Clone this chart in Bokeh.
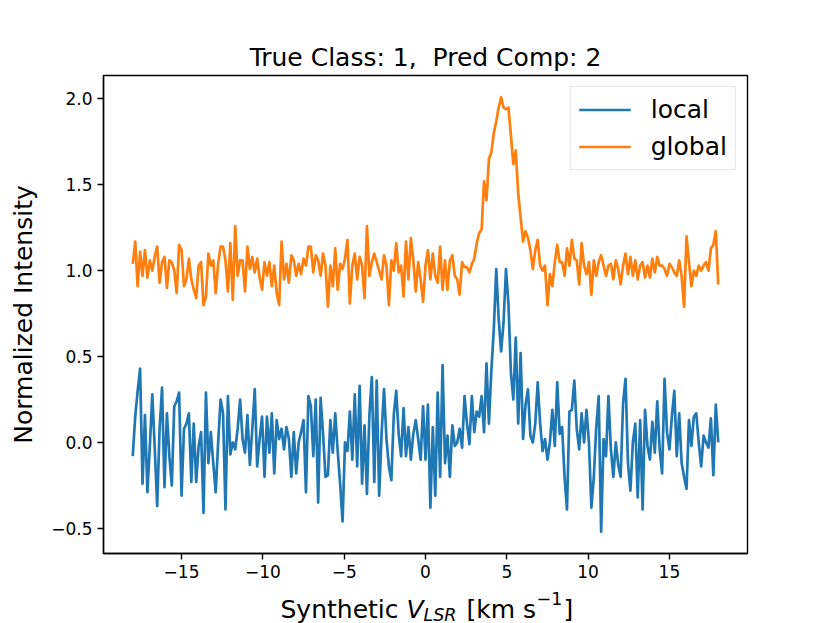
import numpy as np
from bokeh.plotting import figure
from bokeh.layouts import column
from bokeh.models import Range1d, FixedTicker, Label
from bokeh.embed import file_html
from bokeh.resources import INLINE

# ---------------- data ----------------
V_MIN, V_MAX, N_CHAN = -18.0, 18.0, 241
velocity = np.linspace(V_MIN, V_MAX, N_CHAN)   # channel grid [km/s]

local_intensity = [
    -0.08, 0.15, 0.30, 0.43, -0.24, 0.16, -0.29, -0.02, 0.28, -0.03,
    -0.37, 0.08, 0.32, -0.26, 0.17, -0.08, -0.25, 0.21, 0.24, 0.29,
    -0.31, 0.08, 0.11, 0.17, -0.23, 0.11, -0.23, -0.02, 0.06, -0.41,
    0.29, -0.12, 0.06, -0.12, -0.29, 0.00, 0.25, 0.17, -0.39, 0.27,
    -0.07, 0.00, -0.04, 0.08, 0.25, 0.02, -0.06, 0.16, -0.13, 0.08,
    0.31, -0.14, 0.02, 0.15, -0.20, 0.15, -0.06, 0.17, -0.18, 0.13,
    0.02, 0.08, -0.04, 0.09, 0.02, -0.20, 0.06, -0.18, 0.00, 0.06,
    0.13, -0.29, 0.27, 0.21, -0.08, 0.25,
    -0.35, 0.26, 0.05, -0.20, -0.19, 0.13, -0.06, 0.17, -0.05, -0.24,
    -0.46, 0.00, -0.05, 0.18, -0.10, 0.28, -0.14, 0.33, -0.24, 0.10,
    -0.30, 0.16, 0.38, -0.23, 0.36, -0.31, 0.05, 0.31, 0.02, -0.14,
    -0.22, 0.16, 0.30, 0.05, -0.08, 0.20, -0.08, 0.09, -0.10, 0.05,
    0.13, 0.02, -0.10, 0.21, -0.10, 0.22, -0.38, 0.09, -0.31, 0.29,
    -0.20, 0.45, -0.12, 0.04, -0.20,
    0.10, -0.02, 0.00, 0.08, -0.03, 0.27, 0.11, -0.01, 0.27, 0.06,
    0.18, 0.15, 0.27, 0.06, 0.46, 0.11, 0.42, 0.66, 1.01, 0.72,
    0.53, 0.70, 1.01, 0.81, 0.41, 0.25, 0.61, 0.11, 0.52, 0.02,
    0.22, 0.31, 0.04, 0.00, 0.11, 0.35, 0.11, -0.05, 0.02, -0.10,
    0.00, 0.19, -0.02, 0.35, 0.05,
    0.09, -0.20, -0.39, 0.18, 0.19, 0.36, 0.08, -0.04, 0.17, 0.00,
    0.19, 0.00, -0.38, -0.20, 0.09, 0.27, -0.52, 0.02, -0.08, 0.27,
    -0.04, -0.20, 0.00, -0.13, -0.20, 0.23, 0.37, -0.12, -0.28, 0.00,
    0.11, -0.32, 0.13, -0.39, 0.19, -0.02, -0.10, 0.12, -0.06, 0.24,
    -0.04, -0.18, 0.37, 0.06, -0.04, 0.15, 0.30, -0.08, 0.17, -0.12,
    -0.20, -0.27, 0.13, -0.02, 0.15, 0.17, 0.00, -0.14, 0.04, 0.00,
    -0.03, 0.14, -0.19, 0.22, 0.00,
]

global_intensity = [
    1.04, 1.17, 0.91, 1.11, 0.97, 1.12, 0.96, 1.06, 1.00, 1.08,
    1.14, 0.93, 1.05, 1.08, 0.90, 1.06, 1.05, 1.00, 0.87, 1.15,
    1.12, 0.91, 0.95, 1.07, 0.95, 0.89, 0.84, 1.03, 1.05, 0.80,
    0.85, 1.10, 1.03, 1.06, 0.87, 1.04, 1.14, 1.14, 1.06, 0.88,
    1.16, 0.83, 1.26, 0.97, 1.06, 1.06, 0.88, 1.14, 1.01, 1.08,
    0.99, 1.07, 0.96, 0.89, 1.05, 0.97, 1.05, 0.91, 1.03, 0.87,
    0.80, 1.17, 0.95, 1.04, 0.93, 1.09, 1.06, 0.97, 1.04, 0.98,
    1.07, 1.03, 1.14, 1.14, 0.99, 1.09, 1.06, 0.97, 1.10, 1.03,
    0.79, 1.03, 0.91, 1.13, 0.89, 1.04, 1.01, 1.07, 1.18, 0.81,
    1.03, 1.10, 0.95, 1.08, 1.03, 0.84, 1.26, 0.97, 1.05, 1.10,
    1.05, 1.00, 0.95, 1.09, 1.03, 0.80, 1.06, 1.00, 1.16, 0.99,
    1.03, 0.85, 1.17, 0.95, 1.19, 1.06, 0.88, 1.05,
    0.95, 0.82, 1.03, 1.12, 0.95, 1.10, 0.97, 0.93, 1.14, 0.89,
    1.06, 0.89, 1.06,
    1.09, 0.97, 0.95, 0.86, 1.05, 1.02, 1.02, 0.99, 1.04, 1.07,
    1.16, 1.22, 1.24, 1.52, 1.41, 1.65, 1.69, 1.80, 1.87, 1.95,
    2.01, 1.95, 1.94, 1.95, 1.79, 1.62, 1.70, 1.45, 1.31, 1.17,
    1.23, 1.19, 1.12, 1.01, 1.12, 1.18, 1.03, 1.00, 1.03, 0.80,
    0.98, 0.91, 1.05, 1.15, 1.05,
    1.05, 0.97, 1.13, 1.03, 1.18, 1.07, 1.06, 0.92, 1.16, 1.03,
    0.98, 1.05, 0.86, 1.06, 0.97, 1.05, 1.09, 1.03, 0.97, 1.03,
    1.04, 0.95, 1.06, 1.01, 0.92, 1.03, 1.10, 0.98, 1.08, 0.97,
    1.06, 0.95, 1.03, 1.05, 0.96, 1.03, 0.96, 1.07, 0.99, 1.08,
    1.03, 1.03, 1.01, 0.97, 1.04, 1.02, 0.99, 0.97, 1.06, 0.97,
    0.79, 1.20, 1.05, 0.91, 1.00, 0.97, 1.03, 1.00, 1.03, 1.05,
    1.00, 1.13, 1.15, 1.23, 0.92,
]

SERIES_NAMES = ["local", "global"]
SERIES_COLORS = ["#1f77b4", "#ff7f0e"]

X_TICKS = [-15, -10, -5, 0, 5, 10, 15]
X_TICK_LABELS = ["\u221215", "\u221210", "\u22125", "0", "5", "10", "15"]
Y_TICKS = [-0.5, 0.0, 0.5, 1.0, 1.5, 2.0]
Y_TICK_LABELS = ["\u22120.5", "0.0", "0.5", "1.0", "1.5", "2.0"]

TITLE = "True Class: 1, \u00a0Pred Comp: 2"
Y_LABEL = "Normalized Intensity"
# x-axis label: Synthetic V_LSR [km s^-1] as text pieces
X_LABEL_PARTS = ["Synthetic", "V", "LSR", "[km s", "\u22121", "]"]

assert len(local_intensity) == N_CHAN and len(global_intensity) == N_CHAN

# ------------- ranges (matplotlib-like 5% margins) -------------
allv = np.concatenate([local_intensity, global_intensity])
xpad = 0.05 * (V_MAX - V_MIN)
ypad = 0.05 * (allv.max() - allv.min())

FONT = "DejaVu Sans"
W = 830
H_MAIN = 585
H_LAB = 38

p = figure(width=W, height=H_MAIN, output_backend="svg", toolbar_location=None,
           x_range=Range1d(V_MIN - xpad, V_MAX + xpad),
           y_range=Range1d(allv.min() - ypad, allv.max() + ypad),
           min_border_left=103, min_border_right=83,
           min_border_top=75, min_border_bottom=32,
           background_fill_color="white", border_fill_color="white")

p.grid.visible = False
p.outline_line_color = "black"
p.outline_line_width = 1.4

for name, color, vals in zip(SERIES_NAMES, SERIES_COLORS,
                             [local_intensity, global_intensity]):
    p.line(velocity, vals, line_color=color, line_width=2.7,
           line_join="round", legend_label=name)

# title
p.title.text = TITLE
p.title.text_font = FONT
p.title.text_font_size = "25px"
p.title.text_font_style = "normal"
p.title.text_color = "black"
p.title.align = "center"
p.title.standoff = 8

# axes
for ax in (p.xaxis[0], p.yaxis[0]):
    ax.major_tick_in = 0
    ax.major_tick_out = 6
    ax.minor_tick_in = 0
    ax.minor_tick_out = 0
    ax.major_tick_line_width = 1.4
    ax.major_tick_line_color = "black"
    ax.axis_line_width = 1.4
    ax.axis_line_color = "black"
    ax.major_label_text_font = FONT
    ax.major_label_text_font_size = "17px"
    ax.major_label_text_color = "black"
    ax.major_label_standoff = 5

p.xaxis.ticker = FixedTicker(ticks=X_TICKS)
p.xaxis.major_label_overrides = {float(t): s for t, s in zip(X_TICKS, X_TICK_LABELS)}
p.yaxis.ticker = FixedTicker(ticks=Y_TICKS)
p.yaxis.major_label_overrides = {float(t): s for t, s in zip(Y_TICKS, Y_TICK_LABELS)}

p.yaxis.axis_label = Y_LABEL
p.yaxis.axis_label_text_font = FONT
p.yaxis.axis_label_text_font_size = "25px"
p.yaxis.axis_label_text_font_style = "normal"
p.yaxis.axis_label_text_color = "black"
p.yaxis.axis_label_standoff = 10

# legend
leg = p.legend[0]
leg.location = "top_right"
leg.margin = 11
leg.label_text_font = FONT
leg.label_text_font_size = "25px"
leg.label_text_color = "black"
leg.glyph_width = 52
leg.glyph_height = 29
leg.label_height = 29
leg.label_standoff = 20
leg.padding = 8
leg.spacing = 8
leg.border_line_color = "#cccccc"
leg.border_line_width = 1.5
leg.background_fill_alpha = 0.8

# ---- x-axis label strip (separate canvas so sub/superscripts are not clipped) ----
# its frame is aligned under the main frame by the column layout
q = figure(width=W, height=H_LAB, output_backend="svg", toolbar_location=None,
           x_range=Range1d(0, 1), y_range=Range1d(0, 1),
           x_axis_type=None, y_axis_type=None, min_border=0,
           outline_line_color=None,
           background_fill_color="white", border_fill_color="white")
q.grid.visible = False

# (x from frame left, baseline from bottom, size, style) for each part, in pixels
part_pos = [(177, 14, "25px", "normal"),
            (303, 14, "25px", "italic"),
            (320, 9, "17.5px", "italic"),
            (363, 14, "25px", "normal"),
            (433, 25, "17.5px", "normal"),
            (460, 14, "25px", "normal")]
for txt, (sx, sy, fs, st) in zip(X_LABEL_PARTS, part_pos):
    q.add_layout(Label(x=sx, y=sy, x_units="screen", y_units="screen", text=txt,
                       text_font=FONT, text_font_size=fs, text_font_style=st,
                       text_color="black", text_baseline="alphabetic",
                       text_align="left"))

layout = column(p, q, spacing=0)
open("out.html", "w").write(file_html(layout, INLINE))
